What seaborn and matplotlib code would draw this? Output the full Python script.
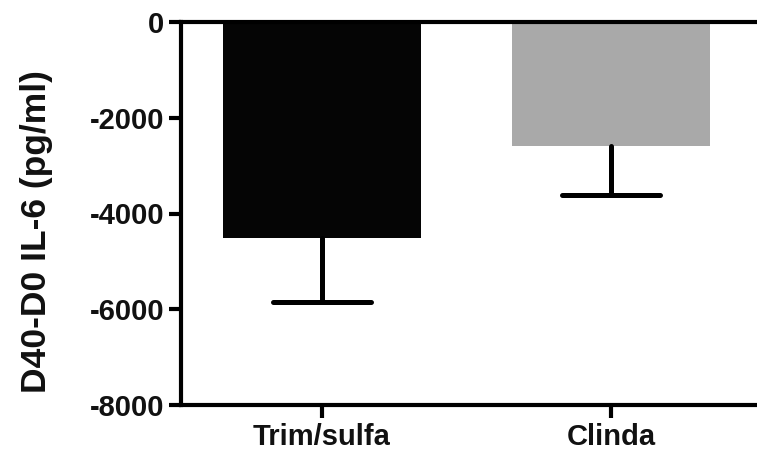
import matplotlib
matplotlib.use("Agg")
import matplotlib.pyplot as plt
import seaborn as sns
import pandas as pd
import numpy as np

categories = ["Trim/sulfa", "Clinda"]
means = [-4520, -2600]
errors = [1320, 1020]
colors = ["#050505", "#a9a9a9"]
yticks = [-8000, -6000, -4000, -2000, 0]
ylabel = "D40-D0 IL-6 (pg/ml)"

sns.set_theme(style="white")
plt.rcParams["font.family"] = ["Liberation Sans", "DejaVu Sans"]
plt.rcParams["font.weight"] = "bold"

df = pd.DataFrame({"group": categories, "value": means})

fig = plt.figure(figsize=(7.57, 4.57), dpi=100)
ax = fig.add_axes([181 / 757, 52 / 457, 576 / 757, 383 / 457])

sns.barplot(data=df, x="group", y="value", hue="group", palette=colors,
            width=0.685, errorbar=None, legend=False, ax=ax, linewidth=0,
            saturation=1)

# one-sided (downward) error bars
xs = np.arange(len(categories))
lows = np.array(means) - np.array(errors)
ax.vlines(xs, lows, means, colors="black", linewidth=3.6, zorder=3,
          capstyle="round")
ax.hlines(lows, xs - 0.171, xs + 0.171, colors="black", linewidth=3.6,
          zorder=3, capstyle="round")

ax.set_xlim(-0.488, 1.505)
ax.set_ylim(-8000, 0)
ax.set_yticks(yticks)
ax.set_yticklabels([str(v) for v in yticks])
ax.set_xlabel("")
ax.set_ylabel(ylabel, fontsize=25.5, fontweight="bold", color="#111111")
ax.yaxis.set_label_coords(-0.222, 0.452)

for side in ["left", "bottom", "top"]:
    ax.spines[side].set_visible(True)
    ax.spines[side].set_linewidth(3)
    ax.spines[side].set_color("black")
ax.spines["right"].set_visible(False)

ax.tick_params(axis="both", which="major", direction="out", length=9, width=3,
               color="black", labelsize=21, labelcolor="#111111")
ax.tick_params(axis="y", pad=3, left=True)
ax.tick_params(axis="x", pad=4, bottom=True, top=False)
for lab in ax.get_xticklabels() + ax.get_yticklabels():
    lab.set_fontweight("bold")

fig.savefig("out.png", dpi=100)
